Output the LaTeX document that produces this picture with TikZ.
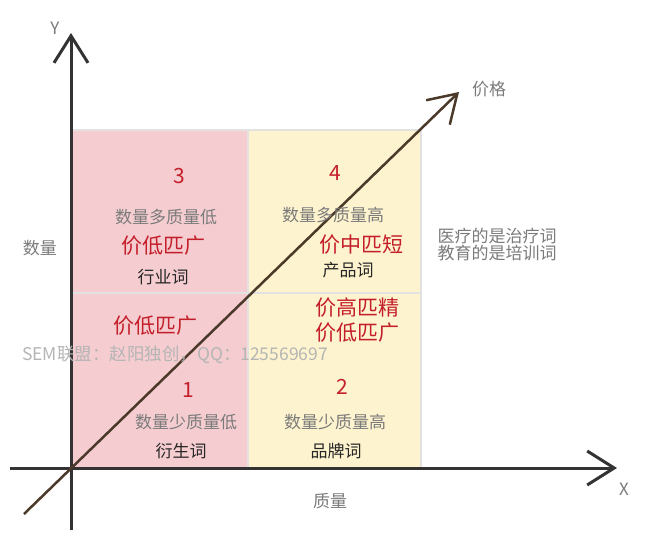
\documentclass[tikz,border=0pt]{standalone}
\usepackage{fontspec}
\setmainfont{Noto Sans CJK SC}
\usetikzlibrary{arrows.meta}

\definecolor{pinkq}{HTML}{F5CDD0}
\definecolor{yellowq}{HTML}{FDF3CE}
\definecolor{gridq}{HTML}{E2E2E2}
\definecolor{redtxt}{HTML}{C41E2A}
\definecolor{graytxt}{HTML}{7B7B7B}
\definecolor{axisc}{HTML}{333333}
\definecolor{diagc}{HTML}{4B3A2A}
\definecolor{marktxt}{HTML}{B5B5B5}

\tikzset{
  axisline/.style={line width=3pt,axisc,-{Straight Barb[length=27pt,width=34pt]}},
  graylbl/.style={text=graytxt,font=\fontsize{17}{17}\selectfont,inner sep=0pt},
  redlbl/.style={text=redtxt,font=\fontsize{21}{22}\selectfont,inner sep=0pt},
  blacklbl/.style={text=black!85,font=\fontsize{17}{17}\selectfont,inner sep=0pt},
  numlbl/.style={text=redtxt,font=\fontsize{21}{22}\selectfont,inner sep=0pt},
}

\begin{document}
\begin{tikzpicture}[x=1pt,y=-1pt]
\useasboundingbox[fill=white] (0,0) rectangle (648,539);

% quadrants
\fill[pinkq] (71,130) rectangle (248,468);
\fill[yellowq] (248,130) rectangle (421,468);
\draw[gridq,line width=2pt] (71,130) -- (421,130) -- (421,468);
\draw[gridq,line width=2pt] (248,130) -- (248,468);
\draw[gridq,line width=2pt] (71,293) -- (421,293);

\coordinate (ybot) at (71,530);
\coordinate (ytip) at (71,33);
\coordinate (xleft) at (10,468);
\coordinate (xtip) at (617,468);
\coordinate (dstart) at (24,514);
\coordinate (dtip) at (459,92);

% axes
\draw[axisline] (ybot) -- (ytip);
\draw[axisline] (xleft) -- (xtip);
\draw[line width=2.5pt,diagc,-{Straight Barb[length=27pt,width=34pt]}] (dstart) -- (dtip);

\node[graylbl] (ylbl) at (55,28) {Y};
\node[graylbl] (xlbl) at (624,489) {X};
\node[graylbl] (pricelbl) at (489,89) {价格};
\node[graylbl] (numlbl) at (40,248) {数量};
\node[graylbl] (qualbl) at (330,501) {质量};
\node[graylbl,align=left] (note) at (497,245) {医疗的是治疗词\\教育的是培训词};

% quadrant 3
\node[numlbl] (n3) at (179,176) {3};
\node[graylbl] (d3) at (166,217) {数量多质量低};
\node[redlbl] (p3) at (163,246) {价低匹广};
\node[blacklbl] (w3) at (163,277) {行业词};

% quadrant 4
\node[numlbl] (n4) at (335,173) {4};
\node[graylbl] (d4) at (333,215) {数量多质量高};
\node[redlbl] (p4) at (361,245) {价中匹短};
\node[blacklbl] (w4) at (348,270) {产品词};

% quadrant 1
\node[redlbl] (p1) at (155,326) {价低匹广};
\node[numlbl] (n1) at (188,390) {1};
\node[graylbl] (d1) at (186,422) {数量少质量低};
\node[blacklbl] (w1) at (181,451) {衍生词};

% quadrant 2
\node[redlbl] (p2a) at (357,308) {价高匹精};
\node[redlbl] (p2b) at (357,333) {价低匹广};
\node[numlbl] (n2) at (342,387) {2};
\node[graylbl] (d2) at (335,422) {数量少质量高};
\node[blacklbl] (w2) at (336,451) {品牌词};

\node[text=marktxt,font=\fontsize{17.5}{18}\selectfont,inner sep=0pt] (mark) at (175,355) {SEM联盟：赵阳独创，QQ：125569697};
\end{tikzpicture}
\end{document}
